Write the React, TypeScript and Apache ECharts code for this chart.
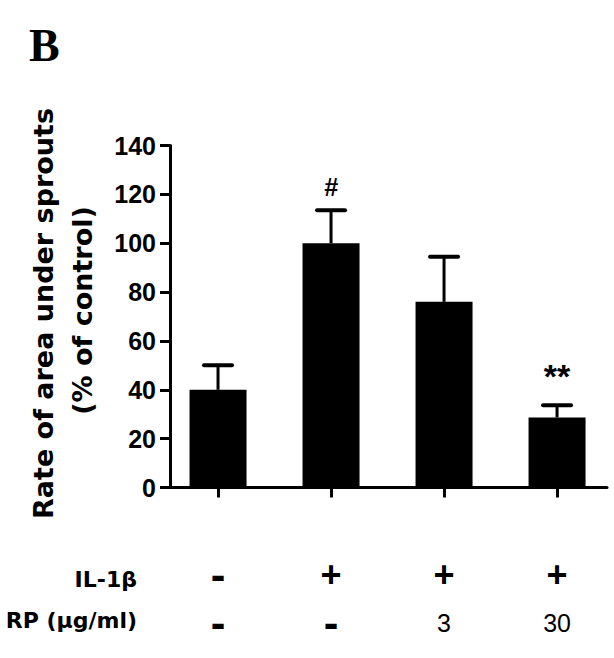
import React, { useEffect, useRef } from "react";
import * as echarts from "echarts";

// ---- data ----
const positions = [1, 2, 3, 4];
const means = [40, 100, 76, 28.7];
const sems = [10, 13.5, 18.5, 5];
const sigLabels = ["", "#", "", "**"];
const il1bRow = ["-", "+", "+", "+"];
const rpRow = ["-", "-", "3", "30"];
const yMin = 0;
const yMax = 140;
const yInterval = 20;
const rowLabels = ["IL-1β", "RP (μg/ml)"];
const yTitle = ["Rate of area under sprouts", "(% of control)"];
const panelLetter = "B";

const SANS = "Liberation Sans, Arial, Helvetica, sans-serif";
const WIDE = "DejaVu Sans, Liberation Sans, Arial, sans-serif";

function cls(s: string) {
  if (s === "+") return "plus";
  if (s === "-") return "minus";
  return "num";
}

export default function App() {
  const ref = useRef<HTMLDivElement>(null);
  useEffect(() => {
    const chart = echarts.init(ref.current!, null, { renderer: "svg" });
    const option: any = {
      animation: false,
      backgroundColor: "#fff",
      grid: { left: 170, right: 7, top: 145.5, bottom: 170.5 },
      xAxis: {
        type: "value",
        min: 0.575,
        max: 4.442,
        splitLine: { show: false },
        axisLine: { show: true, lineStyle: { color: "#000", width: 3 } },
        axisTick: {
          show: true,
          customValues: positions,
          length: 10,
          lineStyle: { color: "#000", width: 3 },
        },
        axisLabel: {
          show: true,
          customValues: positions,
          margin: 63,
          color: "#000",
          formatter: (v: number) => {
            const i = positions.indexOf(Math.round(v));
            if (i < 0) return "";
            const a = il1bRow[i];
            const b = rpRow[i];
            return `{${cls(a)}|${a}}\n{${cls(b)}|${b}}`;
          },
          rich: {
            plus: { fontFamily: SANS, fontWeight: "bold", fontSize: 36, lineHeight: 48, color: "#000" },
            minus: { fontFamily: SANS, fontWeight: "bold", fontSize: 44, lineHeight: 48, color: "#000" },
            num: { fontFamily: SANS, fontWeight: "normal", fontSize: 25, lineHeight: 48, color: "#000" },
          },
        },
      },
      yAxis: {
        type: "value",
        min: yMin,
        max: yMax,
        interval: yInterval,
        splitLine: { show: false },
        axisLine: { show: true, lineStyle: { color: "#000", width: 3 } },
        axisTick: { show: true, length: 10, lineStyle: { color: "#000", width: 3 } },
        axisLabel: {
          margin: 14,
          color: "#000",
          fontFamily: SANS,
          fontWeight: "bold",
          fontSize: 25,
        },
      },
      series: [
        {
          type: "bar",
          barWidth: 57,
          itemStyle: { color: "#000" },
          data: positions.map((p, i) => [p, means[i]]),
          z: 2,
        },
        {
          type: "custom",
          z: 3,
          clip: false,
          encode: { x: 0, y: 1 },
          data: positions.map((p, i) => [p, means[i], sems[i]]),
          renderItem: (params: any, api: any) => {
            const x = api.value(0);
            const m = api.value(1);
            const e = api.value(2);
            const p0 = api.coord([x, m]);
            const p1 = api.coord([x, m + e]);
            const children: any[] = [
              {
                type: "line",
                shape: { x1: p0[0], y1: p0[1], x2: p1[0], y2: p1[1] },
                style: { stroke: "#000", lineWidth: 3 },
              },
              {
                type: "line",
                shape: { x1: p1[0] - 14, y1: p1[1], x2: p1[0] + 14, y2: p1[1] },
                style: { stroke: "#000", lineWidth: 4, lineCap: "round" },
              },
            ];
            const lab = sigLabels[params.dataIndex];
            if (lab) {
              const isHash = lab === "#";
              children.push({
                type: "text",
                x: p1[0],
                y: p1[1] - (isHash ? 23 : 29),
                style: {
                  text: lab,
                  fill: "#000",
                  fontFamily: SANS,
                  fontWeight: "bold",
                  fontStyle: isHash ? "italic" : "normal",
                  fontSize: isHash ? 25 : 34,
                  align: "center",
                  verticalAlign: "middle",
                },
              });
            }
            return { type: "group", children };
          },
        },
      ],
      graphic: [
        {
          type: "text",
          x: 29,
          y: 45,
          style: {
            text: panelLetter,
            fill: "#000",
            fontFamily: "Liberation Serif, Times New Roman, serif",
            fontWeight: "bold",
            fontSize: 46,
            align: "left",
            verticalAlign: "middle",
          },
        },
        {
          type: "text",
          x: 43,
          y: 313.5,
          rotation: Math.PI / 2,
          style: {
            text: yTitle[0],
            fill: "#000",
            fontFamily: WIDE,
            fontWeight: "bold",
            fontSize: 27,
            align: "center",
            verticalAlign: "middle",
          },
        },
        {
          type: "text",
          x: 82,
          y: 310.5,
          rotation: Math.PI / 2,
          style: {
            text: yTitle[1],
            fill: "#000",
            fontFamily: WIDE,
            fontWeight: "bold",
            fontSize: 27,
            align: "center",
            verticalAlign: "middle",
          },
        },
        {
          type: "text",
          x: 137,
          y: 579.5,
          style: {
            text: rowLabels[0],
            fill: "#000",
            fontFamily: WIDE,
            fontWeight: "bold",
            fontSize: 22,
            align: "right",
            verticalAlign: "middle",
          },
        },
        {
          type: "text",
          x: 137,
          y: 620.5,
          style: {
            text: rowLabels[1],
            fill: "#000",
            fontFamily: WIDE,
            fontWeight: "bold",
            fontSize: 22,
            align: "right",
            verticalAlign: "middle",
          },
        },
      ],
    };
    chart.setOption(option);
    return () => chart.dispose();
  }, []);
  return (
    <div
      ref={ref}
      style={{ position: "absolute", left: 0, top: 0, width: 614, height: 658, background: "#fff" }}
    />
  );
}
